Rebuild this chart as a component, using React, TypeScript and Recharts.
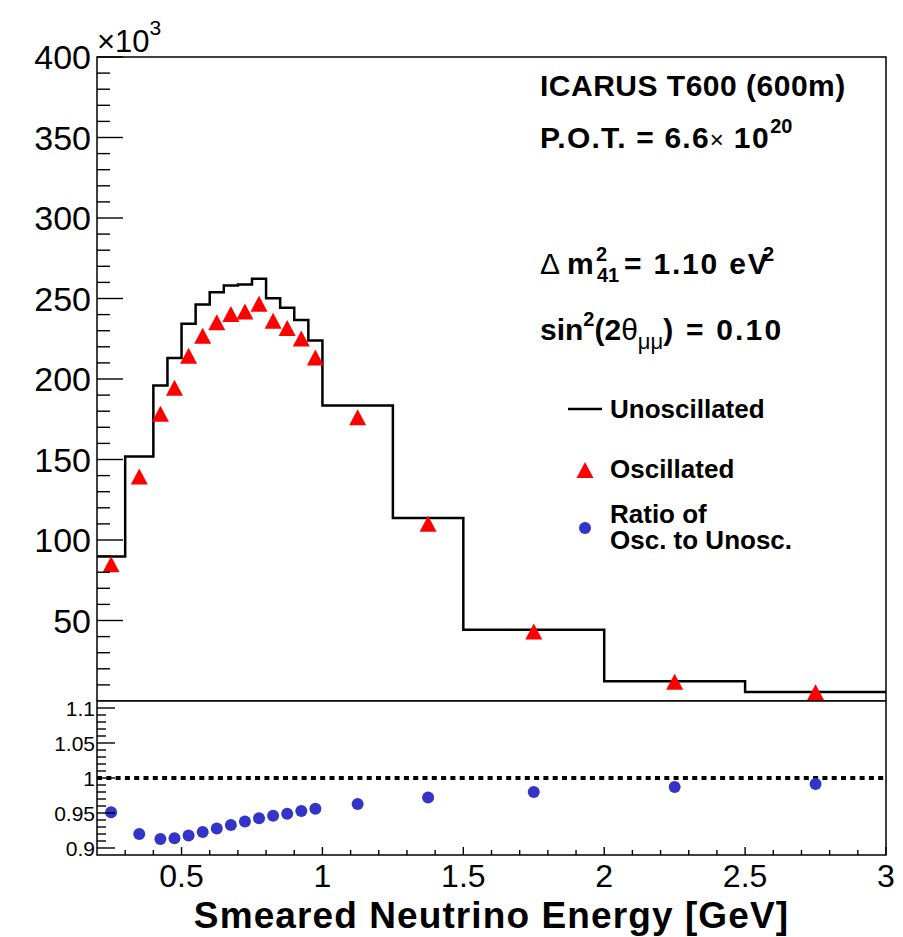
import React from 'react';
import {
  ComposedChart,
  Line,
  Scatter,
  XAxis,
  YAxis,
  ReferenceLine,
  ReferenceArea,
  Legend,
  Customized,
} from 'recharts';

// Histogram bin edges [GeV]
const binEdges = [0.2, 0.3, 0.4, 0.45, 0.5, 0.55, 0.6, 0.65, 0.7, 0.75, 0.8, 0.85, 0.9, 0.95, 1.0, 1.25, 1.5, 2.0, 2.5, 3.0];
// Bin centres, where the markers sit
const binCenters = [0.25, 0.35, 0.425, 0.475, 0.525, 0.575, 0.625, 0.675, 0.725, 0.775, 0.825, 0.875, 0.925, 0.975, 1.125, 1.375, 1.75, 2.25, 2.75];
// Events per bin (x10^3)
const unoscillated = [89.7, 151.9, 196.0, 213.1, 234.3, 246.3, 253.9, 258.1, 258.7, 262.2, 250.2, 244.2, 236.7, 223.9, 183.5, 113.6, 44.2, 12.2, 5.6];
const oscillated = [84.9, 139.5, 178.4, 194.5, 214.5, 226.8, 235.2, 240.3, 242.0, 246.8, 236.2, 231.7, 225.2, 213.4, 176.2, 110.1, 43.1, 11.9, 5.5];
// Osc. / Unosc. per bin
const ratio = [0.951, 0.92, 0.913, 0.914, 0.918, 0.923, 0.928, 0.933, 0.938, 0.9425, 0.946, 0.949, 0.953, 0.956, 0.963, 0.972, 0.98, 0.987, 0.9915];

// Axis ticks
const countTicks = [50, 100, 150, 200, 250, 300, 350, 400];
const ratioTicks = [0.9, 0.95, 1, 1.05, 1.1];
const energyTicks = [0.5, 1, 1.5, 2, 2.5, 3];

const countMinor = Array.from({ length: 40 }, (_, i) => (i + 1) * 10);
const ratioMinor = Array.from({ length: 21 }, (_, i) => Math.round((0.9 + i * 0.01) * 100) / 100);
const energyMinor = Array.from({ length: 28 }, (_, i) => Math.round((0.3 + i * 0.1) * 10) / 10);

const legendItems = [
  { key: 'unosc', label: ['Unoscillated'] },
  { key: 'osc', label: ['Oscillated'] },
  { key: 'ratio', label: ['Ratio of', 'Osc. to Unosc.'] },
];

const histData = binEdges.map((x, i) => ({ x, y: unoscillated[Math.min(i, unoscillated.length - 1)] }));
const oscData = binCenters.map((x, i) => ({ x, y: oscillated[i] }));
const ratioData = binCenters.map((x, i) => ({ x, y: ratio[i] }));

const FONT = '"Liberation Sans", Arial, Helvetica, sans-serif';
const RED = '#ff0000';
const BLUE = '#3434c8';

const near = (a: number, b: number) => Math.abs(a - b) < 1e-6;

const CountTick = (props: any) => {
  const { x, y, payload } = props;
  const v = payload.value;
  const major = countTicks.some((t) => near(t, v));
  return (
    <g>
      <line x1={x} y1={y} x2={x + (major ? 26 : 13)} y2={y} stroke="#000" strokeWidth={1.4} />
      {major && (
        <text x={x - 6} y={y + 12} textAnchor="end" fontSize={34} fontFamily={FONT} fill="#000">
          {v}
        </text>
      )}
    </g>
  );
};

const RatioTick = (props: any) => {
  const { x, y, payload } = props;
  const v = payload.value;
  const major = ratioTicks.some((t) => near(t, v));
  return (
    <g>
      <line x1={x} y1={y} x2={x + (major ? 18 : 9)} y2={y} stroke="#000" strokeWidth={1.4} />
      {major && (
        <text x={x - 2} y={y + 7.5} textAnchor="end" fontSize={21} fontFamily={FONT} fill="#000">
          {v}
        </text>
      )}
    </g>
  );
};

const TopEnergyTick = (props: any) => {
  const { x, y, payload } = props;
  const major = energyTicks.some((t) => near(t, payload.value));
  return <line x1={x} y1={y} x2={x} y2={y - (major ? 17 : 8)} stroke="#000" strokeWidth={1.4} />;
};

const BottomEnergyTick = (props: any) => {
  const { x, y, payload } = props;
  const v = payload.value;
  const major = energyTicks.some((t) => near(t, v));
  return (
    <g>
      <line x1={x} y1={y} x2={x} y2={y - (major ? 8 : 5)} stroke="#000" strokeWidth={1.4} />
      {major && (
        <text x={x} y={y + 32} textAnchor="middle" fontSize={32} fontFamily={FONT} fill="#000">
          {v}
        </text>
      )}
    </g>
  );
};

const Triangle = (props: any) => {
  const { cx, cy } = props;
  return <polygon points={`${cx},${cy - 8} ${cx + 8.5},${cy + 8} ${cx - 8.5},${cy + 8}`} fill={RED} />;
};

const Dot = (props: any) => {
  const { cx, cy } = props;
  return <circle cx={cx} cy={cy} r={6} fill={BLUE} />;
};

// Text block in the upper right plus the x10^3 multiplier
const Annotations = () => (
  <g fontFamily={FONT} fill="#000">
    <text x={97} y={52} fontSize={31}>
      ×10<tspan fontSize={21} dy={-17}>3</tspan>
    </text>
    <g fontWeight="bold" fontSize={30}>
      <text x={540} y={96} letterSpacing={0.5}>ICARUS T600 (600m)</text>
      <text x={540} y={148} letterSpacing={1.2}>
        P.O.T. = 6.6<tspan fontWeight="normal" fontSize={24} letterSpacing={0}>×</tspan>
        <tspan dx={10} letterSpacing={1.5}>10</tspan>
        <tspan fontSize={20} dy={-15} letterSpacing={0}>20</tspan>
      </text>
      <text x={540} y={274}>
        <tspan fontWeight="normal">Δ</tspan>
        <tspan dx={7}>m</tspan>
      </text>
      <text x={596} y={261} fontSize={20}>2</text>
      <text x={597} y={282} fontSize={20}>41</text>
      <text x={624} y={274} letterSpacing={1.8}>= 1.10 eV</text>
      <text x={763} y={261} fontSize={20}>2</text>
      <text x={540} y={340}>
        sin<tspan fontSize={20} dy={-14}>2</tspan>
        <tspan dy={14}>(2</tspan>
        <tspan fontWeight="normal">θ</tspan>
        <tspan fontWeight="normal" fontSize={22} dy={9}>μμ</tspan>
        <tspan dy={-9} letterSpacing={2.2}>) = 0.10</tspan>
      </text>
    </g>
  </g>
);

const LegendBox = () => (
  <svg width={330} height={175} style={{ display: 'block' }}>
    <g fontFamily={FONT} fontWeight="bold" fontSize={26} fill="#000">
      <line x1={18} y1={24} x2={52} y2={24} stroke="#000" strokeWidth={2.5} />
      <text x={60} y={33}>{legendItems[0].label[0]}</text>
      <polygon points="35,77 43.5,93 26.5,93" fill={RED} />
      <text x={60} y={93}>{legendItems[1].label[0]}</text>
      <circle cx={35} cy={143} r={6} fill={BLUE} />
      <text x={60} y={138}>{legendItems[2].label[0]}</text>
      <text x={60} y={164}>{legendItems[2].label[1]}</text>
    </g>
  </svg>
);

export default function App() {
  return (
    <div style={{ position: 'absolute', left: 0, top: 0, width: 903, height: 937, background: '#fff' }}>
      <div style={{ position: 'absolute', left: 0, top: 0 }}>
        <ComposedChart width={903} height={701} margin={{ top: 57, right: 17, bottom: 0, left: 0 }}>
          <XAxis
            dataKey="x"
            type="number"
            domain={[0.2, 3]}
            ticks={energyMinor}
            interval={0}
            height={0}
            axisLine={false}
            tickLine={false}
            tickSize={0}
            tickMargin={0}
            tick={<TopEnergyTick />}
          />
          <YAxis
            dataKey="y"
            type="number"
            domain={[0, 400]}
            ticks={countMinor}
            interval={0}
            width={97}
            axisLine={false}
            tickLine={false}
            tickSize={0}
            tickMargin={0}
            tick={<CountTick />}
          />
          <ReferenceArea x1={0.2} x2={3} y1={0} y2={400} fill="none" stroke="#000" strokeWidth={1.5} />
          <Line
            data={histData}
            dataKey="y"
            name="Unoscillated"
            type="stepAfter"
            stroke="#000"
            strokeWidth={2.5}
            dot={false}
            isAnimationActive={false}
          />
          <Scatter data={oscData} dataKey="y" name="Oscillated" shape={<Triangle />} isAnimationActive={false} />
          <Legend
            layout="horizontal"
            verticalAlign="middle"
            align="center"
            content={<LegendBox />}
            wrapperStyle={{ left: 550, top: 385, width: 330, height: 175 }}
          />
          <Customized component={Annotations} />
        </ComposedChart>
      </div>
      <div style={{ position: 'absolute', left: 0, top: 688 }}>
        <ComposedChart width={903} height={249} margin={{ top: 13, right: 17, bottom: 0, left: 0 }}>
          <XAxis
            dataKey="x"
            type="number"
            domain={[0.2, 3]}
            ticks={energyMinor}
            interval={0}
            height={82}
            axisLine={false}
            tickLine={false}
            tickSize={0}
            tickMargin={0}
            tick={<BottomEnergyTick />}
            label={{
              value: 'Smeared Neutrino Energy [GeV]',
              position: 'insideBottom',
              offset: 9,
              style: { fontFamily: FONT, fontWeight: 'bold', fontSize: 37, letterSpacing: 1.1, fill: '#000' },
            }}
          />
          <YAxis
            dataKey="y"
            type="number"
            domain={[0.89, 1.11]}
            ticks={ratioMinor}
            interval={0}
            width={97}
            axisLine={false}
            tickLine={false}
            tickSize={0}
            tickMargin={0}
            tick={<RatioTick />}
          />
          <ReferenceArea x1={0.2} x2={3} y1={0.89} y2={1.11} fill="none" stroke="#000" strokeWidth={1.5} />
          <ReferenceLine y={1} stroke="#000" strokeWidth={4} strokeDasharray="5 4.3" />
          <Scatter data={ratioData} dataKey="y" name="Ratio" shape={<Dot />} isAnimationActive={false} />
        </ComposedChart>
      </div>
    </div>
  );
}
